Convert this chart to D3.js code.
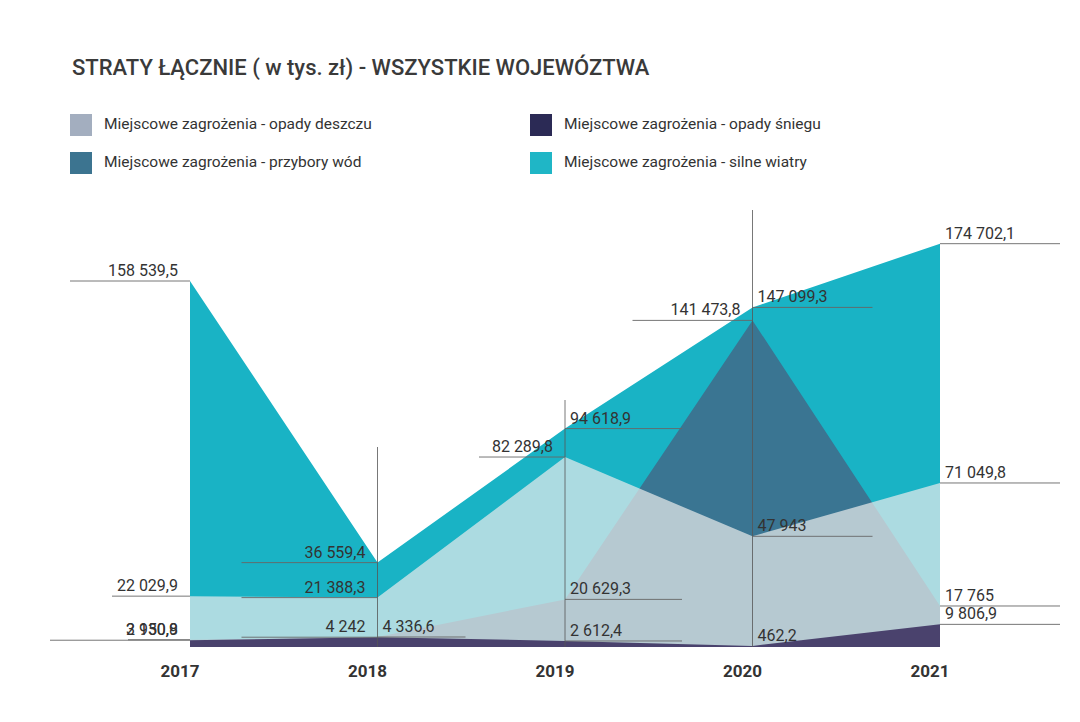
<!DOCTYPE html>
<html><head><meta charset="utf-8">
<script src="https://cdn.jsdelivr.net/npm/d3@7"></script>
<style>
body{margin:0;background:#fff;}
text{font-family:Roboto,"Noto Sans",sans-serif;fill:#333;}
</style></head>
<body><svg id="chart" width="1080" height="722"></svg>
<script>
// values in thousands PLN
var years   = ["2017","2018","2019","2020","2021"];
var wiatry  = [158539.5, 36559.4, 94618.9, 147099.3, 174702.1];
var wody    = [3150.8, 4336.6, 20629.3, 141473.8, 17765];
var deszcz  = [22029.9, 21388.3, 82289.8, 47943, 71049.8];
var snieg   = [2930.9, 4242, 2612.4, 462.2, 9806.9];
var names   = ["Miejscowe zagrożenia - opady deszczu","Miejscowe zagrożenia - przybory wód",
               "Miejscowe zagrożenia - opady śniegu","Miejscowe zagrożenia - silne wiatry"];

// label callouts: [series, year index, side, line length]
var labels = [
  [wiatry,0,"L",120],[deszcz,0,"L",78],[wody,0,"L",62],[snieg,0,"L",140],
  [wiatry,1,"L",136],[deszcz,1,"L",136],[snieg,1,"L",136],[wody,1,"R",88],
  [deszcz,2,"L",86],[wiatry,2,"R",117],[wody,2,"R",117],[snieg,2,"R",117],
  [wody,3,"L",120],[wiatry,3,"R",120],[deszcz,3,"R",120],[snieg,3,"R",0],
  [wiatry,4,"R",120],[deszcz,4,"R",120],[wody,4,"R",120],[snieg,4,"R",120]
];

var svg = d3.select("#chart");
var x = d3.scalePoint().domain(years).range([190,940]);
var y = d3.scaleLinear().domain([0,158539.5]).range([647,281]);
var fmt = function(v){
  var s = d3.format(",")(v).replace(/,/g," ").replace(".",",");
  return s;
};

svg.append("text").attr("x",72).attr("y",75).attr("font-size",22).attr("font-weight",500)
  .style("fill","#3a3a3a").text("STRATY ŁĄCZNIE ( w tys. zł) - WSZYSTKIE WOJEWÓZTWA");

var legend = [[70,114,"#a3aebf",names[0]],[70,152,"#3c7490",names[1]],
              [530,114,"#2b2a55",names[2]],[530,152,"#1fb6c6",names[3]]];
legend.forEach(function(l){
  svg.append("rect").attr("x",l[0]).attr("y",l[1]).attr("width",22).attr("height",22).attr("fill",l[2]);
  svg.append("text").attr("x",l[0]+34).attr("y",l[1]+15).attr("font-size",15.5).text(l[3]);
});

var area = function(vals){
  return d3.area().x(function(d,i){return x(years[i]);}).y0(y(0)).y1(function(d){return y(d);})(vals);
};
svg.append("path").attr("d",area(wiatry)).attr("fill","#19b3c5");
svg.append("path").attr("d",area(wody)).attr("fill","#3a7592");
svg.append("path").attr("d",area(deszcz)).attr("fill","#ebecec").attr("fill-opacity",0.7);
svg.append("path").attr("d",area(snieg)).attr("fill","#4a426d");

// vertical guides
[[1,447],[2,400],[3,210]].forEach(function(g){
  svg.append("line").attr("x1",x(years[g[0]])).attr("x2",x(years[g[0]]))
    .attr("y1",g[1]).attr("y2",647).attr("stroke","#555").attr("stroke-width",0.8);
});

labels.forEach(function(l){
  var px = x(years[l[1]]), v = l[0][l[1]], py = y(v);
  var left = l[2]=="L";
  if (l[3]>0) svg.append("line").attr("x1",px).attr("x2",left?px-l[3]:px+l[3])
    .attr("y1",py).attr("y2",py).attr("stroke","#666").attr("stroke-width",0.9);
  svg.append("text").attr("x",left?px-12:px+5).attr("y",py-5)
    .attr("text-anchor",left?"end":"start").attr("font-size",16).text(fmt(v));
});

svg.selectAll(".yr").data(years).enter().append("text")
  .attr("x",function(d){return x(d)-10;}).attr("y",677).attr("text-anchor","middle")
  .attr("font-size",17).attr("font-weight",700).style("fill","#333").text(function(d){return d;});
</script></body></html>
